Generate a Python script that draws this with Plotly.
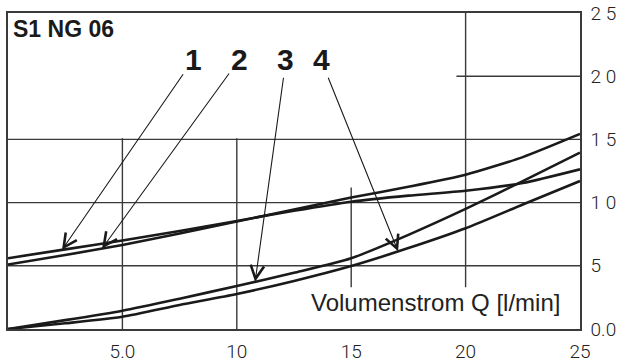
import plotly.graph_objects as go
import numpy as np

# Data
q = [0, 2.5, 5, 7.5, 10, 12.5, 15, 17.5, 20, 22.5, 25]
curve1 = [5.6, 6.3, 7.0, 7.75, 8.55, 9.35, 10.07, 10.55, 10.94, 11.55, 12.63]
curve2 = [5.1, 5.85, 6.65, 7.55, 8.5, 9.45, 10.4, 11.25, 12.2, 13.6, 15.43]
curve3 = [0.0, 0.7, 1.45, 2.4, 3.4, 4.45, 5.6, 7.45, 9.5, 11.7, 13.95]
curve4 = [0.0, 0.45, 0.97, 1.9, 2.77, 3.8, 4.98, 6.4, 7.97, 9.85, 11.71]
curves = [curve1, curve2, curve3, curve4]
curve_labels = ["1", "2", "3", "4"]
arrow_q = [2.36, 4.11, 10.8, 17.05]
label_pos = [(8.09, 21.3), (10.1, 21.3), (12.15, 21.3), (13.68, 21.3)]

x_ticks = [5, 10, 15, 20, 25]
x_ticktext = ["5.0", "10", "15", "20", "25"]
y_ticks = [0, 5, 10, 15, 20, 25]
y_ticktext = ["0.0", "5", "1 0", "1 5", "2 0", "2 5"]

# grid segments (value, from, to)
h_grid = [(5, 0, 25), (10, 0, 25), (15, 0, 25), (20, 19.6, 25)]
v_grid = [(5, 0, 15.1), (10, 0, 15.1), (15, 3.3, 11.2), (20, 3.3, 25)]

fig = go.Figure()
for c in curves:
    fig.add_trace(go.Scatter(x=q, y=c, mode="lines",
                             line=dict(color="#1a1a1a", width=2.6, shape="spline", smoothing=0.6),
                             showlegend=False, hoverinfo="skip"))

shapes = []
for y, x0, x1 in h_grid:
    shapes.append(dict(type="line", xref="x", yref="y", x0=x0, x1=x1, y0=y, y1=y,
                       line=dict(color="#3a3a3a", width=1.4), layer="below"))
for x, y0, y1 in v_grid:
    shapes.append(dict(type="line", xref="x", yref="y", x0=x, x1=x, y0=y0, y1=y1,
                       line=dict(color="#3a3a3a", width=1.4), layer="below"))

annotations = [
    dict(text="<b>S1 NG 06</b>", xref="paper", yref="paper", x=0.005, y=0.949,
         xanchor="left", yanchor="middle", showarrow=False,
         font=dict(family="Liberation Sans, Arial, sans-serif", size=23, color="#1a1a1a")),
    dict(text="Volumenstrom Q [l/min]", xref="paper", yref="paper", x=0.748, y=0.085,
         xanchor="center", yanchor="middle", showarrow=False,
         font=dict(family="Liberation Sans, Arial, sans-serif", size=24, color="#222")),
]
for lab, c, aq, (lx, ly) in zip(curve_labels, curves, arrow_q, label_pos):
    hy = float(np.interp(aq, q, c))
    annotations.append(dict(text="<b>%s</b>" % lab, x=aq, y=hy, xref="x", yref="y",
                            ax=lx, ay=ly, axref="x", ayref="y", showarrow=True,
                            arrowhead=5, arrowsize=2.4, arrowwidth=1.1, arrowcolor="#1a1a1a",
                            standoff=0, startstandoff=0,
                            font=dict(family="Liberation Sans, Arial, sans-serif", size=30, color="#1a1a1a")))

tickfont = dict(family="Roboto, sans-serif", size=19, color="#222", weight=300)

fig.update_layout(
    width=620, height=362,
    margin=dict(l=8, r=40, t=13, b=33, autoexpand=False),
    paper_bgcolor="white", plot_bgcolor="white",
    shapes=shapes, annotations=annotations,
    xaxis=dict(range=[0, 25], showgrid=False, zeroline=False, showline=True, mirror=True,
               linecolor="#3a3a3a", linewidth=1.5, tickvals=x_ticks, ticktext=x_ticktext,
               ticks="outside", ticklen=4, tickcolor="rgba(0,0,0,0)", tickfont=tickfont,
               automargin=False),
    yaxis=dict(range=[0, 25], side="right", showgrid=False, zeroline=False, showline=True,
               mirror=True, linecolor="#3a3a3a", linewidth=1.5, tickvals=y_ticks,
               ticktext=y_ticktext, ticks="outside", ticklen=5, tickcolor="rgba(0,0,0,0)",
               tickfont=tickfont, automargin=False),
)

fig.write_html("out.html")
